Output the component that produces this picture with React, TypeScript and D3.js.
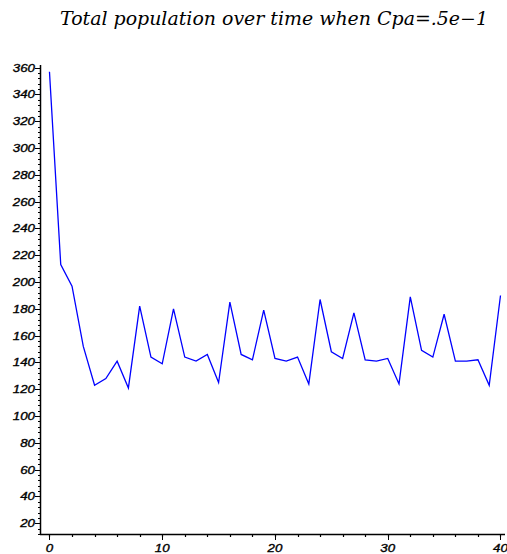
import React from "react";
import * as d3 from "d3";

const title = "Total population over time when Cpa=.5e\u22121";
const times = d3.range(0, 41);
const population = [
  357, 213, 197, 152, 123, 128, 141, 121, 182, 144,
  139, 180, 144, 141, 146, 125, 185, 146, 142, 179,
  143, 141, 144, 124, 187, 148, 143, 177, 142, 141,
  143, 124, 189, 149, 144, 176, 141, 141, 142, 123,
  190,
];
const yTicks = d3.range(20, 361, 20);
const yMinor = d3.range(12, 362, 4);
const xTicks = [0, 10, 20, 30, 40];
const xMinor = d3.range(0, 41, 2);

export default function App() {
  const W = 507, H = 554;
  const x = d3.scaleLinear().domain([-0.84, 40.4]).range([40, 505]);
  const y = d3.scaleLinear().domain([12, 362]).range([534, 65]);
  const line = d3
    .line<number>()
    .x((_, i) => x(times[i]))
    .y((d) => y(d));
  const labelFont = "'Liberation Sans', Arial, sans-serif";
  const lbl = (v: number) => String(v).length * 7.4;
  return (
    <svg
      width={W}
      height={H}
      style={{ position: "absolute", left: 0, top: 0, background: "#fff" }}
    >
      <text
        x={60}
        y={25}
        textLength={428}
        lengthAdjust="spacingAndGlyphs"
        fontFamily="'DejaVu Serif', serif"
        fontStyle="italic"
        fontSize={18}
        fill="#000"
      >
        {title}
      </text>
      {/* y axis */}
      <line x1={40.5} x2={40.5} y1={65} y2={534} stroke="#000" strokeWidth={1.5} />
      {yMinor.map((v) => (
        <line key={"ym" + v} x1={38} x2={40} y1={Math.round(y(v)) + 0.5} y2={Math.round(y(v)) + 0.5} stroke="#000" />
      ))}
      {yTicks.map((v) => (
        <g key={"yt" + v}>
          <line x1={35} x2={40} y1={Math.round(y(v)) + 0.5} y2={Math.round(y(v)) + 0.5} stroke="#000" />
          <text
            x={35}
            y={y(v) + 4}
            textAnchor="end"
            textLength={lbl(v)}
            lengthAdjust="spacingAndGlyphs"
            fontFamily={labelFont}
            fontStyle="italic"
            fontSize={11}
            fill="#000"
            stroke="#000"
            strokeWidth={0.35}
          >
            {v}
          </text>
        </g>
      ))}
      {/* x axis */}
      <line x1={40} x2={505} y1={534.5} y2={534.5} stroke="#000" strokeWidth={1.5} />
      {xMinor.map((v) => (
        <line key={"xm" + v} x1={Math.round(x(v)) + 0.5} x2={Math.round(x(v)) + 0.5} y1={535} y2={537} stroke="#000" strokeWidth={1.2} />
      ))}
      {xTicks.map((v) => (
        <g key={"xt" + v}>
          <line x1={Math.round(x(v)) + 0.5} x2={Math.round(x(v)) + 0.5} y1={535} y2={540} stroke="#000" />
          <text
            x={x(v)}
            y={552}
            textAnchor="middle"
            textLength={lbl(v)}
            lengthAdjust="spacingAndGlyphs"
            fontFamily={labelFont}
            fontStyle="italic"
            fontSize={11}
            fill="#000"
            stroke="#000"
            strokeWidth={0.35}
          >
            {v}
          </text>
        </g>
      ))}
      <path d={line(population) || ""} fill="none" stroke="#0000ff" strokeWidth={1.3} />
    </svg>
  );
}
